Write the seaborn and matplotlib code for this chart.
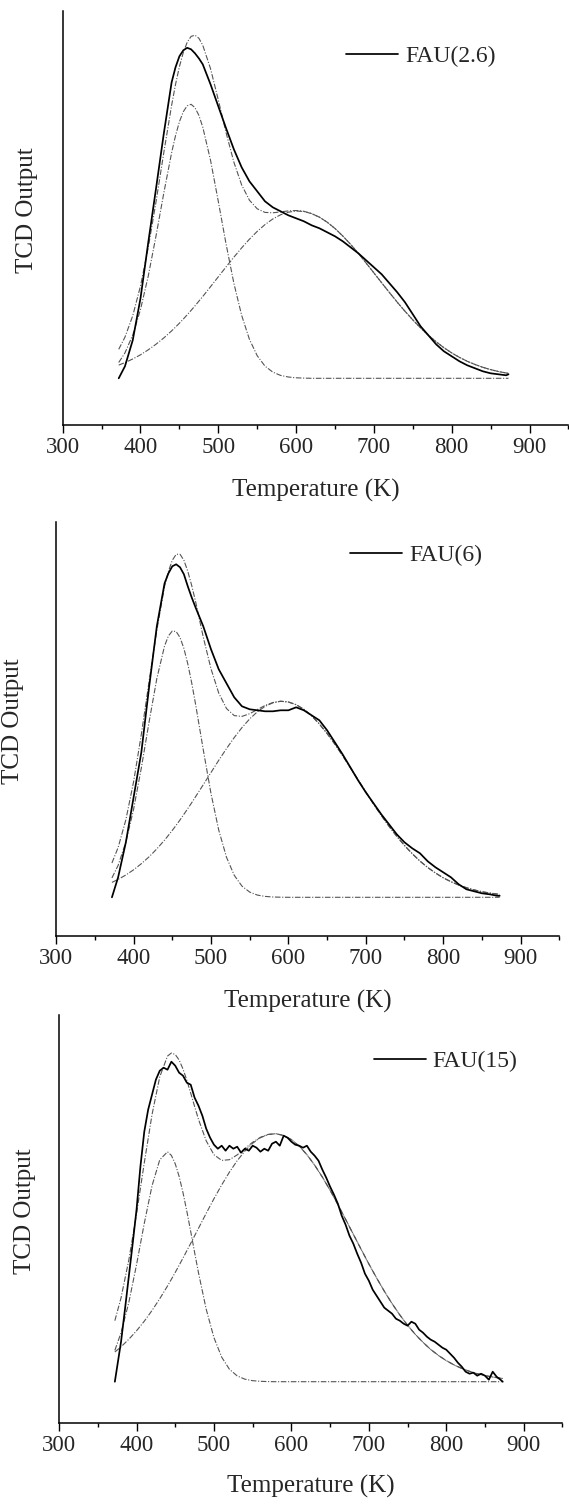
import matplotlib
matplotlib.use("Agg")
import matplotlib.pyplot as plt
from matplotlib.ticker import MultipleLocator
import seaborn as sns

sns.set_theme(style="white")
plt.rcParams['font.family'] = ['Liberation Serif', 'DejaVu Serif']

# ---------------- data ----------------
temperature = [372, 380, 390, 400, 410, 420, 430, 440, 445, 450, 455, 460, 465, 470, 475, 480,
               490, 500, 510, 520, 530, 540, 550, 560, 570, 580, 590, 600, 610, 620, 630, 640,
               650, 660, 670, 680, 690, 700, 710, 720, 730, 740, 750, 760, 770, 780, 790, 800,
               810, 820, 830, 840, 850, 860, 870, 873]

# FAU(2.6)
fau26_exp = [0, 12, 38, 80, 136, 190, 245, 296, 311, 322, 328, 330.5, 329, 325, 320, 314,
             294, 272, 250, 229, 211, 197, 187, 177, 171, 167, 163, 160, 157, 153, 150, 146,
             142, 137, 131, 125, 118, 111, 104, 95, 86, 76, 64, 52, 43, 34, 27, 22,
             17, 13, 10, 7, 5, 4, 3, 4]
fau26_low = [15.8, 25.4, 43.2, 68.8, 102.4, 142.6, 185.5, 225.6, 242.6, 256.5, 266.6, 272.5, 274.0, 270.7, 263.0, 251.3,
             218.1, 176.9, 134.2, 95.1, 63.0, 39.0, 22.6, 12.2, 6.2, 2.9, 1.3, 0.5, 0.2, 0, 0, 0,
             0, 0, 0, 0, 0, 0, 0, 0, 0, 0, 0, 0, 0, 0, 0, 0,
             0, 0, 0, 0, 0, 0, 0, 0]
fau26_high = [13.2, 15.7, 19.3, 23.5, 28.5, 34.1, 40.4, 47.4, 51.2, 55.1, 59.2, 63.5, 67.9, 72.4, 77.1, 81.8,
              91.6, 101.5, 111.4, 121.1, 130.4, 139.1, 146.9, 153.7, 159.3, 163.5, 166.1, 167.3, 166.8, 164.7, 161.1, 156.1,
              149.8, 142.3, 134.0, 124.9, 115.3, 105.4, 95.5, 85.7, 76.1, 67.0, 58.4, 50.4, 43.1, 36.5, 30.6, 25.4,
              20.9, 17.0, 13.8, 11.0, 8.7, 6.8, 5.3, 4.9]
fau26_fit = [29.0, 41.1, 62.5, 92.3, 130.9, 176.7, 225.9, 273.0, 293.8, 311.6, 325.8, 336.0, 341.9, 343.1, 340.1, 333.1,
             309.7, 278.4, 245.6, 216.2, 193.4, 178.1, 169.5, 165.9, 165.5, 166.4, 167.4, 167.8, 167.0, 164.7, 161.1, 156.1,
             149.8, 142.3, 134.0, 124.9, 115.3, 105.4, 95.5, 85.7, 76.1, 67.0, 58.4, 50.4, 43.1, 36.5, 30.6, 25.4,
             20.9, 17.0, 13.8, 11.0, 8.7, 6.8, 5.3, 4.9]

# FAU(6)
fau6_exp = [0, 20, 55, 100, 145, 210, 271, 314, 324, 331, 333, 330, 323, 311, 300, 290,
            271, 248, 228, 214, 200, 191, 188, 187, 186, 186, 187, 187, 190, 187, 182, 177,
            167, 155, 143, 130, 117, 105, 94, 83, 73, 63, 55, 49, 44, 36, 30, 25,
            20, 13, 8, 6, 4, 3, 1.5, 1.5]
fau6_low = [19.4, 31.9, 55.2, 88.1, 129.4, 175.3, 218.7, 251.4, 261.4, 266.3, 265.7, 259.8, 248.8, 233.5, 214.7, 193.4,
            147.6, 103.7, 67.2, 40.1, 22.0, 11.2, 5.2, 2.2, 0.9, 0.3, 0.1, 0, 0, 0, 0, 0,
            0, 0, 0, 0, 0, 0, 0, 0, 0, 0, 0, 0, 0, 0, 0, 0,
            0, 0, 0, 0, 0, 0, 0, 0]
fau6_high = [14.9, 17.9, 22.3, 27.5, 33.6, 40.5, 48.4, 57.2, 62.0, 66.9, 72.1, 77.4, 83.0, 88.7, 94.5, 100.5,
             112.6, 124.8, 137.0, 148.7, 159.7, 169.7, 178.4, 185.6, 191.0, 194.5, 196.0, 195.3, 192.6, 188.0, 181.5, 173.3,
             163.8, 153.2, 141.7, 129.7, 117.5, 105.3, 93.3, 81.9, 71.0, 61.0, 51.8, 43.6, 36.2, 29.8, 24.3, 19.5,
             15.6, 12.3, 9.6, 7.4, 5.6, 4.3, 3.2, 2.9]
fau6_fit = [34.3, 49.8, 77.5, 115.6, 163.0, 215.8, 267.1, 311.0, 326.0, 337.0, 343.0, 343.0, 337.0, 326.0, 312.0, 296.0,
            260.2, 228.5, 204.2, 188.8, 181.7, 180.9, 183.6, 187.8, 191.9, 194.8, 196.1, 195.3, 192.6, 188.0, 181.5, 173.3,
            163.8, 153.2, 141.7, 129.7, 117.5, 105.3, 93.3, 81.9, 71.0, 61.0, 51.8, 43.6, 36.2, 29.8, 24.3, 19.5,
            15.6, 12.3, 9.6, 7.4, 5.6, 4.3, 3.2, 2.9]

# FAU(15) - the measured trace is noisy, so it is read on a finer temperature grid
temperature_fine = [372, 375, 380, 385, 390, 395, 400, 405, 410, 415, 420, 425, 430, 435, 440, 445,
                    450, 455, 460, 465, 470, 475, 480, 485, 490, 495, 500, 505, 510, 515, 520, 525,
                    530, 535, 540, 545, 550, 555, 560, 565, 570, 575, 580, 585, 590, 595, 600, 605,
                    610, 615, 620, 625, 630, 635, 640, 645, 650, 655, 660, 665, 670, 675, 680, 685,
                    690, 695, 700, 705, 710, 715, 720, 725, 730, 735, 740, 745, 750, 755, 760, 765,
                    770, 775, 780, 785, 790, 795, 800, 805, 810, 815, 820, 825, 830, 835, 840, 845,
                    850, 855, 860, 865, 870, 873]
fau15_exp = [0, 15, 40, 72, 105, 138, 172, 215, 250, 272, 287, 302, 311, 314, 312, 320,
             316, 309, 306, 299, 297, 284, 276, 266, 253, 244, 237, 233, 236, 231, 236, 233,
             235, 229, 233, 231, 236, 234, 230, 233, 231, 238, 240, 236, 246, 244, 240, 237,
             236, 234, 236, 230, 226, 221, 212, 204, 195, 187, 178, 166, 157, 146, 138, 128,
             119, 108, 101, 92, 86, 80, 74, 71, 68, 63, 61, 58, 56, 60, 58, 52,
             49, 45, 42, 40, 37, 34, 32, 28, 24, 19, 15, 10, 8, 9, 6, 8,
             6, 2, 10, 5, 2, 0]
fau15_low = [31.3, 49.0, 79.1, 117.0, 158.3, 195.9, 221.9, 229.9, 226.3, 217.9, 205.3, 189.1, 170.3, 150.1, 129.3, 109.0,
             72.4, 44.0, 24.5, 12.4, 5.8, 2.5, 1.0, 0.4, 0.1, 0, 0, 0, 0, 0, 0, 0,
             0, 0, 0, 0, 0, 0, 0, 0, 0, 0, 0, 0, 0, 0, 0, 0,
             0, 0, 0, 0, 0, 0, 0, 0]
fau15_high = [29.7, 34.9, 42.4, 50.9, 60.5, 71.2, 83.0, 95.7, 102.4, 109.3, 116.4, 123.6, 131.0, 138.4, 145.9, 153.4,
              168.4, 183.0, 196.8, 209.6, 221.0, 230.7, 238.5, 244.0, 247.2, 248.0, 246.2, 242.1, 235.6, 227.1, 216.6, 204.6,
              191.4, 177.2, 162.4, 147.4, 132.5, 117.8, 103.8, 90.5, 78.1, 66.8, 56.5, 47.3, 39.3, 32.2, 26.2, 21.1,
              16.8, 13.3, 10.4, 8.0, 6.1, 4.7, 3.5, 3.2]
fau15_fit = [61.0, 83.9, 121.5, 167.9, 218.8, 267.1, 304.9, 325.6, 328.7, 327.2, 321.7, 312.7, 301.3, 288.5, 275.2, 262.4,
             240.8, 227.0, 221.3, 222.0, 226.8, 233.2, 239.5, 244.4, 247.3, 248.0, 246.2, 242.1, 235.6, 227.1, 216.6, 204.6,
             191.4, 177.2, 162.4, 147.4, 132.5, 117.8, 103.8, 90.5, 78.1, 66.8, 56.5, 47.3, 39.3, 32.2, 26.2, 21.1,
             16.8, 13.3, 10.4, 8.0, 6.1, 4.7, 3.5, 3.2]

sample_labels = ["FAU(2.6)", "FAU(6)", "FAU(15)"]
x_label = "Temperature (K)"
y_label = "TCD Output"
x_ticks = [300, 400, 500, 600, 700, 800, 900]

# ---------------- layout ----------------
W, H = 569, 1511
fig = plt.figure(figsize=(W / 100, H / 100), dpi=100)

panels = [
    dict(px=(62.7, 568.4, 11.0, 425.0), ylim=(-46.7, 367.3), leg=(346, 56),
         ylab_x=27, xlab_y=490, exp_x=temperature,
         series=(fau26_exp, fau26_low, fau26_high, fau26_fit)),
    dict(px=(56.2, 559.3, 521.7, 936.0), ylim=(-38.7, 375.6), leg=(350, 555),
         ylab_x=12.7, xlab_y=1001.7, exp_x=temperature,
         series=(fau6_exp, fau6_low, fau6_high, fau6_fit)),
    dict(px=(59.1, 562.4, 1015.0, 1423.3), ylim=(-41.6, 366.7), leg=(373.7, 1061.7),
         ylab_x=25.4, xlab_y=1486.7, exp_x=temperature_fine,
         series=(fau15_exp, fau15_low, fau15_high, fau15_fit)),
]

fit_style = dict(color="#555555", lw=0.8, linestyle=(0, (5, 1.5, 1, 1.5)))

for i, p in enumerate(panels):
    l, r, t, b = p["px"]
    ax = fig.add_axes([l / W, 1 - b / H, (r - l) / W, (b - t) / H])
    exp_, low, high, fit = p["series"]

    sns.lineplot(x=temperature, y=low, ax=ax, estimator=None, sort=False, **fit_style)
    sns.lineplot(x=temperature, y=high, ax=ax, estimator=None, sort=False, **fit_style)
    sns.lineplot(x=temperature, y=fit, ax=ax, estimator=None, sort=False, **fit_style)
    sns.lineplot(x=p["exp_x"], y=exp_, ax=ax, estimator=None, sort=False,
                 color="black", lw=1.25, label=sample_labels[i])

    ax.set_xlim(300, 950)
    ax.set_ylim(*p["ylim"])
    ax.set_yticks([])
    ax.set_xticks(x_ticks)
    ax.xaxis.set_minor_locator(MultipleLocator(50))
    ax.tick_params(axis="x", which="major", direction="out", length=6, width=1,
                   color="black", labelsize=16.5, pad=2.5, bottom=True)
    ax.tick_params(axis="x", which="minor", direction="out", length=3, width=1,
                   color="black", bottom=True)
    for s in ["top", "right"]:
        ax.spines[s].set_visible(False)
    for s in ["left", "bottom"]:
        ax.spines[s].set_color("black")
        ax.spines[s].set_linewidth(1.1)

    ax.set_xlabel(x_label, fontsize=18, va="center")
    ax.set_ylabel(y_label, fontsize=18, va="center")
    ax.xaxis.set_label_coords(0.5, -(p["xlab_y"] - b) / (b - t))
    ax.yaxis.set_label_coords((p["ylab_x"] - l) / (r - l), 0.5 + 8 / (b - t))

    lx, ly = p["leg"]
    handles, labels = ax.get_legend_handles_labels()
    ax.legend(handles, labels, loc="center left", bbox_to_anchor=(lx / W, 1 - ly / H),
              bbox_transform=fig.transFigure, frameon=False, fontsize=17,
              handlelength=2.2, handletextpad=0.3, borderpad=0, borderaxespad=0)

fig.savefig("out.png", dpi=100, facecolor="white")
